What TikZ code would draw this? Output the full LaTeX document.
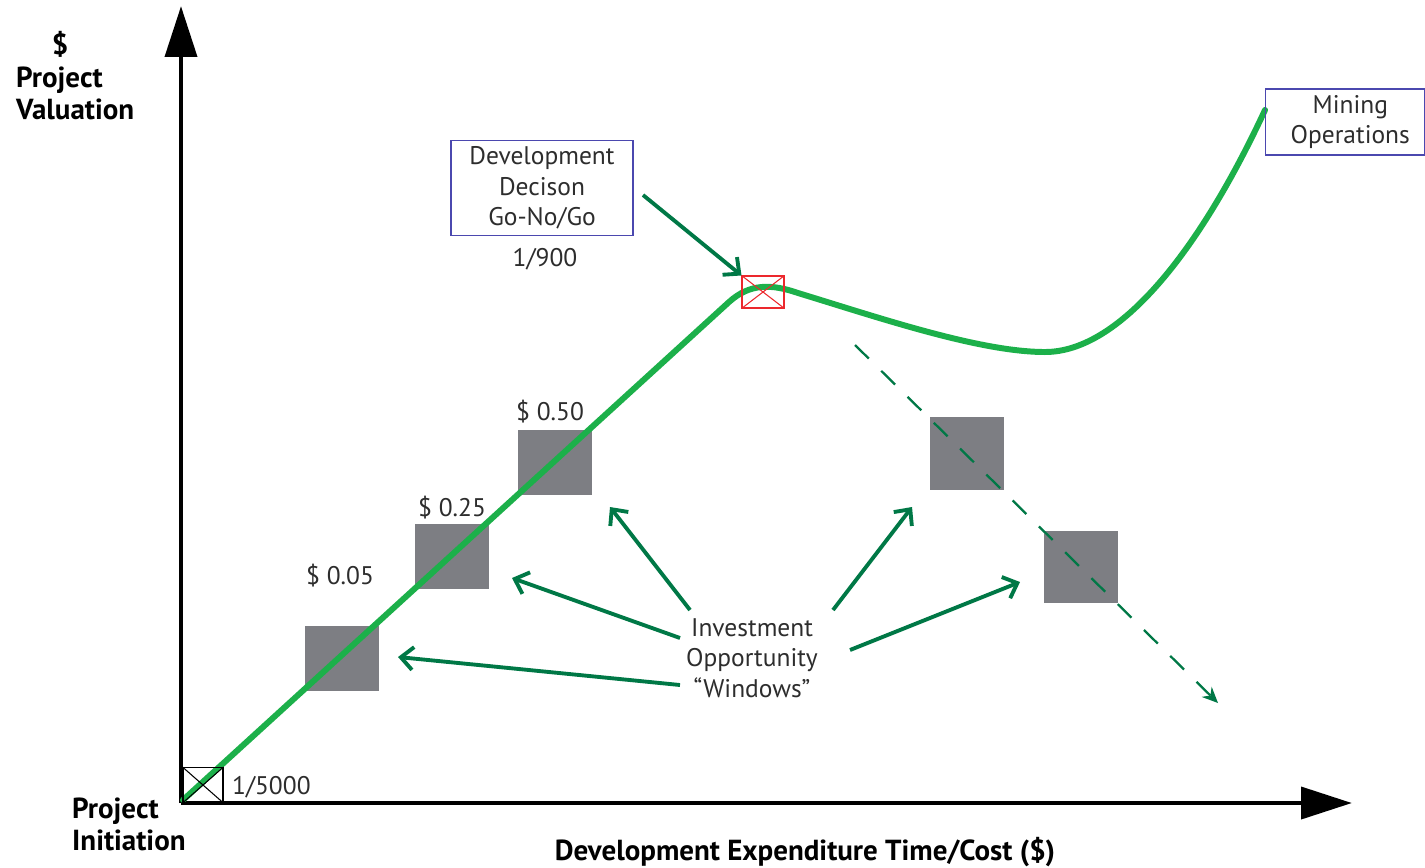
\documentclass[tikz,border=0pt]{standalone}
\usepackage{fontspec}
\setmainfont{PT Sans}
\usetikzlibrary{arrows.meta}

\definecolor{curvegreen}{RGB}{28,176,74}
\definecolor{arrowgreen}{RGB}{0,120,70}
\definecolor{boxblue}{RGB}{75,72,175}
\definecolor{wingray}{RGB}{125,126,131}
\definecolor{crossred}{RGB}{236,40,45}
\definecolor{textgray}{RGB}{45,45,45}

\begin{document}
\begin{tikzpicture}[
			x=0.02cm, y=-0.02cm,
			every node/.style={
					text=textgray,
					font=\fontsize{14.5}{17.5}\selectfont
				},
			axislabel/.style={
					text=black,
					font=\bfseries\fontsize{16.5}{18.2}\selectfont
				},
			infobox/.style={
					draw=boxblue,
					line width=0.9pt,
					align=center,
					inner sep=0pt
				},
			window/.style={
					fill=wingray,
					minimum width=1.48cm,
					minimum height=1.3cm,
					inner sep=0pt
				},
			crossbox/.style={
					draw,
					line width=0.6pt,
					inner sep=0pt
				},
			pointer/.style={
					draw=arrowgreen,
					line width=2.2pt,
					-{Straight Barb[length=7pt,width=13pt]}
				}
		]

		\useasboundingbox (0,0) rectangle (1425,867);

		% axes
		\coordinate (O) at (181,803);
		\coordinate (ytop) at (181,6);
		\coordinate (xend) at (1352,803);
		\draw[line width=2.8pt, -{Triangle[length=29pt,width=18pt]}] (O) -- (ytop);
		\draw[line width=2.8pt, -{Triangle[length=29pt,width=18pt]}] (O) -- (xend);

		\node[axislabel] (dollar) at (60,44) {\$};
		\node[axislabel, align=left, anchor=west] (valuation) at (10,93) {Project\\Valuation};
		\node[axislabel, align=left, anchor=west] (initiation) at (66,824) {Project\\Initiation};
		\node[axislabel] (expend) at (805,852) {Development Expenditure Time/Cost (\$)};

		% investment windows
		\node[window] (w1) at (342,658) {};
		\node[window] (w2) at (452,556) {};
		\node[window] (w3) at (555,462) {};
		\node[window, minimum height=1.46cm] (w4) at (967,453) {};
		\node[window, minimum height=1.44cm] (w5) at (1081,567) {};

		\node (p1) at (340,576) {\$ 0.05};
		\node (p2) at (452,508) {\$ 0.25};
		\node (p3) at (550,412) {\$ 0.50};

		% valuation curve
		\draw[curvegreen, line width=3.4pt, line cap=round]
		(183,800) -- (729,302)
		.. controls (750,283) and (772,284) .. (798,293)
		.. controls (880,318) and (980,352) .. (1045,352)
		.. controls (1120,352) and (1200,250) .. (1265,110);

		% decision points
		\node[crossbox, minimum width=0.8cm, minimum height=0.7cm] (start) at (203,785) {};
		\draw[line width=0.6pt] (start.north west) -- (start.south east)
		(start.south west) -- (start.north east);
		\node[anchor=west] (odds0) at (226,787) {1/5000};

		\node[crossbox, draw=crossred, minimum width=0.84cm, minimum height=0.64cm] (decide) at (763,292) {};
		\draw[crossred, line width=0.6pt] (decide.north west) -- (decide.south east)
		(decide.south west) -- (decide.north east);

		\node[infobox, minimum width=3.64cm, minimum height=1.9cm] (devbox) at (542,188)
		{Development\\Decison\\Go-No/Go};
		\node (odds1) at (545,259) {1/900};

		\node[infobox, minimum width=3.18cm, minimum height=1.32cm] (mining) at (1345,122)
		{\hspace*{6pt}Mining\\\hspace*{6pt}Operations};

		\coordinate (d0) at (643,195);
		\draw[pointer] (d0) -- (decide.north west);

		% downside path
		\coordinate (fall0) at (855,345);
		\coordinate (fall1) at (1218,703);
		\draw[arrowgreen, line width=1.3pt, dash pattern=on 11pt off 10pt,
			-{Stealth[length=9pt,width=8pt]}] (fall0) -- (fall1);

		\node[align=center] (invest) at (752,658)
		{Investment\\Opportunity\\``Windows''};

		\coordinate (a1) at (680,685);
		\coordinate (a2) at (680,638);
		\coordinate (a3) at (690,610);
		\coordinate (a4) at (833,610);
		\coordinate (a5) at (850,650);
		\coordinate (t1) at (398,657);
		\coordinate (t2) at (512,578);
		\coordinate (t3) at (610,507);
		\coordinate (t4) at (912,507);
		\coordinate (t5) at (1020,582);

		\draw[pointer] (a1) -- (t1);
		\draw[pointer] (a2) -- (t2);
		\draw[pointer] (a3) -- (t3);
		\draw[pointer] (a4) -- (t4);
		\draw[pointer] (a5) -- (t5);

	\end{tikzpicture}
\end{document}
